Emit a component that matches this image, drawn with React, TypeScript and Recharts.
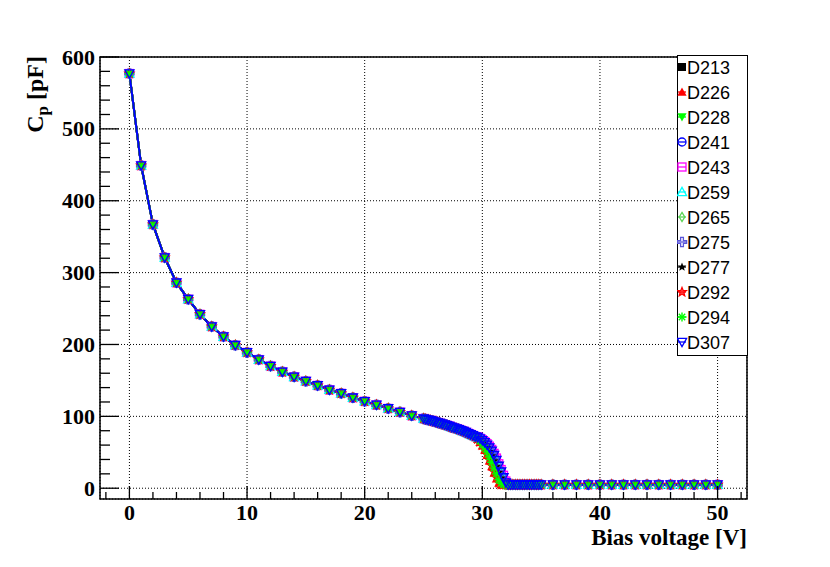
import React from 'react';
import { LineChart, Line, XAxis, YAxis, CartesianGrid, ReferenceArea, Legend } from 'recharts';

// bias voltage points (V)
const headVolts = [0, 1, 2, 3, 4, 5, 6, 7, 8, 9, 10, 11, 12, 13, 14, 15, 16, 17, 18, 19, 20, 21, 22, 23, 24];
const slopeVolts = [25, 25.2, 25.4, 25.6, 25.8, 26, 26.2, 26.4, 26.6, 26.8, 27, 27.2, 27.4, 27.6, 27.8, 28, 28.2, 28.4, 28.6, 28.8, 29, 29.2, 29.4];
const dropVolts = [29.6, 29.8, 30, 30.2, 30.4, 30.6, 30.8, 31, 31.2, 31.4, 31.6, 31.8, 32, 32.2, 32.4, 32.6];
const flatVolts = [32.8, 33, 33.2, 33.4, 33.6, 33.8, 34, 34.2, 34.4, 34.6, 34.8, 35, 36, 37, 38, 39, 40, 41, 42, 43, 44, 45, 46, 47, 48, 49, 50];

// capacitance (pF), shared by all sensors outside the depletion step
const headCap = [577, 449, 367, 321, 286, 263, 242, 225, 211, 199, 189, 179, 170, 162, 155, 149, 143, 137, 132, 126, 121, 116, 111, 106, 101];
const slopeCap = [97, 96, 95, 94.5, 93.5, 92.5, 91.5, 90.5, 89.5, 88.5, 87.5, 86.5, 85, 84, 83, 82, 80.5, 79.5, 78, 76.5, 75, 73.5, 72];
const flatCap = [5, 5, 5, 5, 5, 5, 5, 5, 5, 5, 5, 5, 5, 5, 5, 5, 5, 5, 5, 5, 5, 5, 5, 5, 5, 5, 5];

// per-sensor values across the depletion step
const dropD213 = [70, 68, 65, 61.5, 57, 52, 46, 39, 31, 23, 15, 8, 5, 5, 5, 5];
const dropD226 = [68, 64, 59, 53, 46, 38, 30, 21, 13, 7, 5, 5, 5, 5, 5, 5];
const dropD228 = [69, 65, 60, 55, 48, 41, 33, 25, 17, 10, 6, 5, 5, 5, 5, 5];
const dropD241 = [71, 69, 67, 64.5, 61.5, 57.5, 53, 47, 40, 32, 24, 16, 9, 5, 5, 5];
const dropD243 = [71.5, 69.5, 67.5, 65, 62, 58.5, 54, 48.5, 42, 34, 26, 18, 10, 6, 5, 5];
const dropD259 = [71, 69, 66.5, 63.5, 60, 56, 51, 45, 38, 30, 22, 14, 7, 5, 5, 5];
const dropD265 = [70, 67.5, 64, 60, 55.5, 50, 44, 37, 29, 21, 13, 7, 5, 5, 5, 5];
const dropD275 = [70.5, 68.5, 65.5, 62.5, 58.5, 54, 48.5, 42, 34.5, 26.5, 18, 10, 6, 5, 5, 5];
const dropD277 = [70, 67.5, 64.5, 61, 56.5, 51, 45, 38, 30, 22, 14, 8, 5, 5, 5, 5];
const dropD292 = [68.5, 64.5, 60, 54, 47, 39.5, 31.5, 23, 15, 8, 5, 5, 5, 5, 5, 5];
const dropD294 = [69, 66, 61.5, 56.5, 50.5, 43.5, 36, 28, 20, 12, 7, 5, 5, 5, 5, 5];
const dropD307 = [71, 69, 66.5, 64, 60.5, 56.5, 52, 46, 39, 31, 23, 15, 8, 5, 5, 5];

const seriesNames = ['D213', 'D226', 'D228', 'D241', 'D243', 'D259', 'D265', 'D275', 'D277', 'D292', 'D294', 'D307'];
const seriesDrops = [dropD213, dropD226, dropD228, dropD241, dropD243, dropD259, dropD265, dropD275, dropD277, dropD292, dropD294, dropD307];

const xTicks = [0, 10, 20, 30, 40, 50];
const xMinorTicks = [-2, 2, 4, 6, 8, 12, 14, 16, 18, 22, 24, 26, 28, 32, 34, 36, 38, 42, 44, 46, 48, 52];
const yTicks = [0, 100, 200, 300, 400, 500, 600];
const yMinorTicks = [20, 40, 60, 80, 120, 140, 160, 180, 220, 240, 260, 280, 320, 340, 360, 380, 420, 440, 460, 480, 520, 540, 560, 580];

// styles
const seriesColors = ['#000000', '#ff0000', '#00ff00', '#0000ff', '#ff00ff', '#00ffff', '#59d454', '#5954d9', '#000000', '#ff0000', '#00ff00', '#0000ff'];
const seriesShapes = ['square', 'triUp', 'triDown', 'circle', 'openSquare', 'openTriUp', 'openDiamond', 'openCross', 'star', 'openStar', 'asterisk', 'openTriDown'];

const volts = [...headVolts, ...slopeVolts, ...dropVolts, ...flatVolts];
const seriesData = seriesDrops.map((drop) => {
  const cap = [...headCap, ...slopeCap, ...drop, ...flatCap];
  return volts.map((v, i) => ({ v, c: cap[i] }));
});

const serif = '"Liberation Serif", "DejaVu Serif", serif';
const sans = '"Liberation Sans", Arial, sans-serif';
const tickStroke = { stroke: '#000', strokeWidth: 1.3 };

function starPoints(cx: number, cy: number, ro: number, ri: number) {
  const pts: string[] = [];
  for (let k = 0; k < 10; k++) {
    const r = k % 2 === 0 ? ro : ri;
    const a = -Math.PI / 2 + (k * Math.PI) / 5;
    pts.push(`${cx + r * Math.cos(a)},${cy + r * Math.sin(a)}`);
  }
  return pts.join(' ');
}

function Marker({ shape, cx, cy, color }: { shape: string; cx: number; cy: number; color: string }) {
  const r = 4.6;
  const sw = 1.3;
  switch (shape) {
    case 'square':
      return <rect x={cx - 4} y={cy - 4} width={8} height={8} fill={color} />;
    case 'triUp':
      return <polygon points={`${cx},${cy - r} ${cx + r},${cy + r * 0.8} ${cx - r},${cy + r * 0.8}`} fill={color} />;
    case 'triDown':
      return <polygon points={`${cx},${cy + r} ${cx + r},${cy - r * 0.8} ${cx - r},${cy - r * 0.8}`} fill={color} />;
    case 'circle':
      return <circle cx={cx} cy={cy} r={4} fill="none" stroke={color} strokeWidth={sw} />;
    case 'openSquare':
      return <rect x={cx - 4} y={cy - 4} width={8} height={8} fill="none" stroke={color} strokeWidth={sw} />;
    case 'openTriUp':
      return <polygon points={`${cx},${cy - r} ${cx + r},${cy + r * 0.8} ${cx - r},${cy + r * 0.8}`} fill="none" stroke={color} strokeWidth={sw} />;
    case 'openTriDown':
      return <polygon points={`${cx},${cy + r} ${cx + r},${cy - r * 0.8} ${cx - r},${cy - r * 0.8}`} fill="none" stroke={color} strokeWidth={sw} />;
    case 'openDiamond':
      return <polygon points={`${cx},${cy - r} ${cx + r * 0.6},${cy} ${cx},${cy + r} ${cx - r * 0.6},${cy}`} fill="none" stroke={color} strokeWidth={sw} />;
    case 'openCross': {
      const a = 1.4;
      const pts = [
        [cx - a, cy - r], [cx + a, cy - r], [cx + a, cy - a], [cx + r, cy - a], [cx + r, cy + a], [cx + a, cy + a],
        [cx + a, cy + r], [cx - a, cy + r], [cx - a, cy + a], [cx - r, cy + a], [cx - r, cy - a], [cx - a, cy - a],
      ].map((p) => p.join(',')).join(' ');
      return <polygon points={pts} fill="none" stroke={color} strokeWidth={sw} />;
    }
    case 'star':
      return <polygon points={starPoints(cx, cy, r, 2)} fill={color} />;
    case 'openStar':
      return <polygon points={starPoints(cx, cy, r, 2)} fill={color} fillOpacity={0.6} stroke={color} strokeWidth={sw} />;
    case 'asterisk':
      return (
        <g stroke={color} strokeWidth={1.4}>
          <line x1={cx - r} y1={cy} x2={cx + r} y2={cy} />
          <line x1={cx} y1={cy - r} x2={cx} y2={cy + r} />
          <line x1={cx - 3.2} y1={cy - 3.2} x2={cx + 3.2} y2={cy + 3.2} />
          <line x1={cx - 3.2} y1={cy + 3.2} x2={cx + 3.2} y2={cy - 3.2} />
        </g>
      );
    default:
      return null;
  }
}

// ticks point into the frame, like ROOT does
const XTick = ({ x, y, payload }: any) => (
  <g>
    <line x1={x} x2={x} y1={y} y2={y - 13} {...tickStroke} />
    <text x={x} y={y + 21} textAnchor="middle" fontFamily={serif} fontWeight="bold" fontSize={22} fill="#000">
      {payload.value}
    </text>
  </g>
);

const XMinorTick = ({ x, y }: any) => <line x1={x} x2={x} y1={y - 1} y2={y - 8} {...tickStroke} />;

const YTick = ({ x, y, payload }: any) => (
  <g>
    <line x1={x} x2={x + 19} y1={y} y2={y} {...tickStroke} />
    <text x={x - 5} y={y + 7.5} textAnchor="end" fontFamily={serif} fontWeight="bold" fontSize={22} fill="#000">
      {payload.value}
    </text>
  </g>
);

const YMinorTick = ({ x, y }: any) => <line x1={x + 1} x2={x + 11} y1={y} y2={y} {...tickStroke} />;

const XTitle = ({ viewBox }: any) => (
  <text x={viewBox.x + viewBox.width} y={viewBox.y + 46} textAnchor="end" fontFamily={serif} fontWeight="bold" fontSize={23} fill="#000">
    Bias voltage [V]
  </text>
);

const YTitle = ({ viewBox }: any) => {
  const tx = viewBox.x + viewBox.width - 57;
  const ty = viewBox.y - 1;
  return (
    <text x={tx} y={ty} transform={`rotate(-90, ${tx}, ${ty})`} textAnchor="end" fontFamily={serif} fontWeight="bold" fontSize={24} fill="#000">
      <tspan>C</tspan>
      <tspan dy={5} fontSize={17}>p</tspan>
      <tspan dy={-5}> [pF]</tspan>
    </text>
  );
};

const renderLegend = () => (
  <svg width={71} height={301} style={{ display: 'block' }}>
    <rect x={0.5} y={0.5} width={70} height={300} fill="#fff" stroke="#000" />
    {seriesNames.map((name, i) => {
      const cy = 12 + i * 25;
      return (
        <g key={name}>
          <line x1={1} x2={9} y1={cy} y2={cy} stroke={seriesColors[i]} strokeWidth={1.3} />
          <Marker shape={seriesShapes[i]} cx={5} cy={cy} color={seriesColors[i]} />
          <text x={10} y={cy + 6.5} fontFamily={sans} fontSize={18} fill="#000">
            {name}
          </text>
        </g>
      );
    })}
  </svg>
);

export default function App() {
  return (
    <div style={{ position: 'absolute', left: 0, top: 0, width: 830, height: 567, background: '#fff' }}>
      <LineChart width={830} height={567} margin={{ top: 57, right: 83, bottom: 66, left: 98 }}>
        <CartesianGrid stroke="#000" strokeDasharray="1 2" strokeWidth={1} />
        <XAxis
          dataKey="v"
          type="number"
          domain={[-2.5, 52.5]}
          ticks={xTicks}
          interval={0}
          allowDataOverflow
          height={1}
          axisLine={false}
          tickLine={false}
          tickSize={0}
          tickMargin={0}
          tick={<XTick />}
          label={XTitle}
        />
        <XAxis
          xAxisId="minor"
          dataKey="v"
          type="number"
          domain={[-2.5, 52.5]}
          ticks={xMinorTicks}
          interval={0}
          allowDataOverflow
          height={1}
          axisLine={false}
          tickLine={false}
          tickSize={0}
          tickMargin={0}
          tick={<XMinorTick />}
        />
        <YAxis
          type="number"
          domain={[-15, 600]}
          ticks={yTicks}
          interval={0}
          allowDataOverflow
          width={1}
          axisLine={false}
          tickLine={false}
          tickSize={0}
          tickMargin={0}
          tick={<YTick />}
          label={YTitle}
        />
        <YAxis
          yAxisId="minor"
          type="number"
          domain={[-15, 600]}
          ticks={yMinorTicks}
          interval={0}
          allowDataOverflow
          width={1}
          axisLine={false}
          tickLine={false}
          tickSize={0}
          tickMargin={0}
          tick={<YMinorTick />}
        />
        <ReferenceArea x1={-2.5} x2={52.5} y1={-15} y2={600} fill="none" stroke="#000" strokeWidth={1.5} />
        {seriesNames.map((name, i) => (
          <Line
            key={name}
            name={name}
            data={seriesData[i]}
            dataKey="c"
            type="linear"
            stroke={seriesColors[i]}
            strokeWidth={2}
            isAnimationActive={false}
            activeDot={false}
            dot={(p: any) => (
              <Marker key={`${name}-${p.index}`} shape={seriesShapes[i]} cx={p.cx} cy={p.cy} color={seriesColors[i]} />
            )}
          />
        ))}
        <Legend
          layout="vertical"
          align="center"
          verticalAlign="middle"
          content={renderLegend}
          wrapperStyle={{ left: 677, top: 55, width: 71, height: 301 }}
        />
      </LineChart>
    </div>
  );
}
